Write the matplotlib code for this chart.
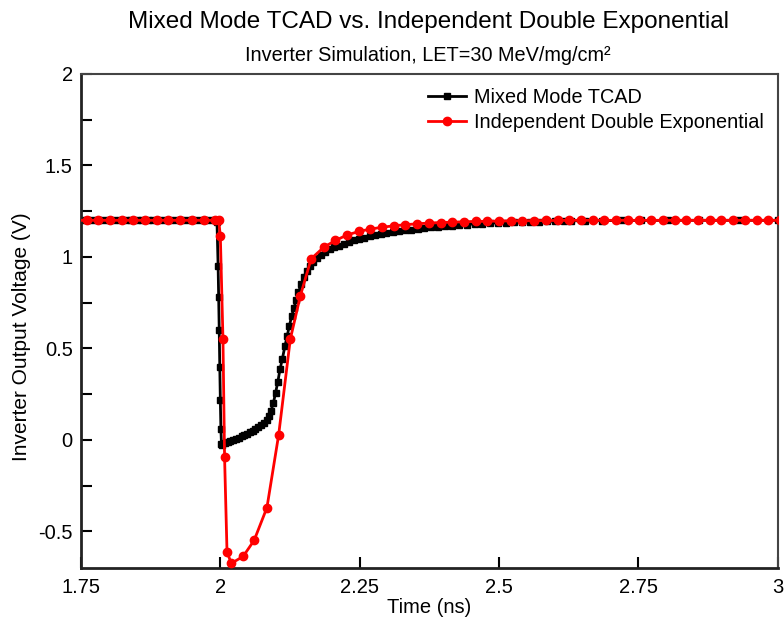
"""Inverter SET transient: mixed-mode TCAD vs. independent double-exponential
current source, LET = 30 MeV/mg/cm^2. Writes out.png."""

import matplotlib
matplotlib.use("Agg")
import matplotlib.pyplot as plt
from matplotlib.ticker import MultipleLocator

# ---------------- data ----------------

# mixed-mode TCAD output node (adaptive time step -> dense in the transient)
tcad_t = [1.75, 1.76, 1.77, 1.78, 1.79, 1.80, 1.81, 1.82, 1.83, 1.84, 1.85,
          1.86, 1.87, 1.88, 1.89, 1.90, 1.91, 1.92, 1.93, 1.94, 1.95, 1.96,
          1.97, 1.98, 1.99, 1.994,
          1.996, 1.997, 1.998, 1.999, 2.000, 2.001, 2.002,
          2.003, 2.008, 2.013, 2.018, 2.023, 2.028, 2.033, 2.038, 2.043,
          2.048, 2.053, 2.058, 2.063, 2.068, 2.073, 2.078, 2.083, 2.087,
          2.091, 2.095, 2.099, 2.103, 2.107, 2.111, 2.116, 2.120, 2.124,
          2.128, 2.132, 2.136, 2.140, 2.145, 2.150, 2.155, 2.161, 2.167,
          2.174, 2.181, 2.188, 2.196, 2.204, 2.212, 2.221, 2.230, 2.239,
          2.248, 2.258, 2.268, 2.278, 2.288, 2.298, 2.309, 2.320, 2.331,
          2.342, 2.354, 2.366, 2.378, 2.390, 2.403, 2.416, 2.429, 2.442,
          2.456, 2.470, 2.484, 2.498, 2.512, 2.526, 2.541, 2.556, 2.571,
          2.586, 2.601, 2.616, 2.630, 2.655, 2.685, 2.720, 2.755, 2.804,
          2.858, 2.930, 3.000]
tcad_v = [1.2, 1.2, 1.2, 1.2, 1.2, 1.2, 1.2, 1.2, 1.2, 1.2, 1.2,
          1.2, 1.2, 1.2, 1.2, 1.2, 1.2, 1.2, 1.2, 1.2, 1.2, 1.2,
          1.2, 1.2, 1.2, 1.19,
          0.95, 0.78, 0.60, 0.40, 0.22, 0.06, -0.02,
          -0.027, -0.018, -0.012, -0.006, 0.000, 0.006, 0.013, 0.020, 0.027,
          0.034, 0.042, 0.050, 0.060, 0.070, 0.080, 0.092, 0.108, 0.128,
          0.160, 0.200, 0.256, 0.315, 0.385, 0.440, 0.513, 0.570, 0.625,
          0.677, 0.720, 0.765, 0.806, 0.850, 0.890, 0.925, 0.952, 0.971,
          0.993, 1.010, 1.026, 1.041, 1.052, 1.062, 1.073, 1.082, 1.091,
          1.099, 1.106, 1.113, 1.119, 1.125, 1.130, 1.135, 1.140, 1.145,
          1.149, 1.153, 1.157, 1.161, 1.165, 1.168, 1.171, 1.174, 1.177,
          1.180, 1.182, 1.184, 1.186, 1.188, 1.189, 1.190, 1.192, 1.193,
          1.194, 1.195, 1.196, 1.197, 1.198, 1.198, 1.199, 1.199, 1.200,
          1.200, 1.200, 1.200]

# independent double-exponential current source
dexp_t = [1.740, 1.760, 1.781, 1.802, 1.823, 1.844, 1.865, 1.886, 1.907,
          1.928, 1.949, 1.970, 1.991, 1.997,
          2.000, 2.0047, 2.0076, 2.012, 2.0198, 2.0408, 2.0606, 2.0836,
          2.1046, 2.1255, 2.1435, 2.163, 2.1857, 2.2066, 2.2275, 2.2485,
          2.269, 2.290, 2.311, 2.332, 2.353, 2.374, 2.395, 2.416, 2.437,
          2.458, 2.479, 2.500, 2.521, 2.542, 2.563, 2.584, 2.605, 2.626,
          2.647, 2.668, 2.689, 2.710, 2.731, 2.752, 2.773, 2.794, 2.815,
          2.836, 2.857, 2.878, 2.899, 2.920, 2.941, 2.962, 2.983, 3.004]
dexp_v = [1.2, 1.2, 1.2, 1.2, 1.2, 1.2, 1.2, 1.2, 1.2,
          1.2, 1.2, 1.2, 1.2, 1.2,
          1.115, 0.553, -0.095, -0.614, -0.674, -0.637, -0.549, -0.370,
          0.027, 0.550, 0.787, 0.990, 1.053, 1.090, 1.120, 1.139,
          1.152, 1.162, 1.170, 1.176, 1.181, 1.185, 1.188, 1.190, 1.192,
          1.194, 1.195, 1.196, 1.197, 1.198, 1.198, 1.199, 1.199, 1.2,
          1.2, 1.2, 1.2, 1.2, 1.2, 1.2, 1.2, 1.2, 1.2,
          1.2, 1.2, 1.2, 1.2, 1.2, 1.2, 1.2, 1.2, 1.2]

x_ticks = [1.75, 2.0, 2.25, 2.5, 2.75, 3.0]
x_ticklabels = ["1.75", "2", "2.25", "2.5", "2.75", "3"]
y_ticks = [-0.5, 0, 0.5, 1, 1.5, 2]
y_ticklabels = ["-0.5", "0", "0.5", "1", "1.5", "2"]

TITLE = "Mixed Mode TCAD vs. Independent Double Exponential"
SUBTITLE = "Inverter Simulation, LET=30 MeV/mg/cm\u00b2"


def plot(path="out.png"):
    plt.rcParams["font.family"] = ["Liberation Sans", "DejaVu Sans"]
    fig = plt.figure(figsize=(7.84, 6.21), dpi=100)
    ax = fig.add_axes([0.1033, 0.0853, 0.8887, 0.7957])

    ax.plot(tcad_t, tcad_v, color="black", lw=2, marker="s", ms=5,
            label="Mixed Mode TCAD", zorder=2)
    ax.plot(dexp_t, dexp_v, color="#ff0000", lw=2, marker="o", ms=6,
            label="Independent Double Exponential", zorder=3)

    ax.set_xlim(1.75, 3.0)
    ax.set_ylim(-0.7, 2.0)
    ax.set_xticks(x_ticks)
    ax.set_xticklabels(x_ticklabels)
    ax.set_yticks(y_ticks)
    ax.set_yticklabels(y_ticklabels)
    ax.yaxis.set_minor_locator(MultipleLocator(0.25))
    ax.tick_params(which="both", direction="in", length=8, width=1.5,
                   labelsize=14.5, top=False, right=False)
    ax.tick_params(axis="x", pad=7)
    ax.tick_params(axis="y", pad=6)

    for side in ("left", "bottom"):
        ax.spines[side].set_linewidth(2)
        ax.spines[side].set_color("#222222")
    for side in ("top", "right"):
        ax.spines[side].set_linewidth(1.5)
        ax.spines[side].set_color("#444444")

    ax.set_xlabel("Time (ns)", fontsize=14.5, labelpad=1)
    ax.set_ylabel("Inverter Output Voltage (V)", fontsize=15)
    ax.yaxis.set_label_coords(-0.072, 0.468)

    fig.text(0.546, 0.965, TITLE, ha="center", va="center", fontsize=17.5)
    fig.text(0.546, 0.911, SUBTITLE, ha="center", va="center", fontsize=14.3)

    ax.legend(loc="upper left", bbox_to_anchor=(0.486, 0.988), frameon=False,
              fontsize=14.3, handlelength=1.95, handletextpad=0.4,
              labelspacing=0.3, borderaxespad=0.0)

    fig.savefig(path, dpi=100)
    plt.close(fig)


if __name__ == "__main__":
    plot()
